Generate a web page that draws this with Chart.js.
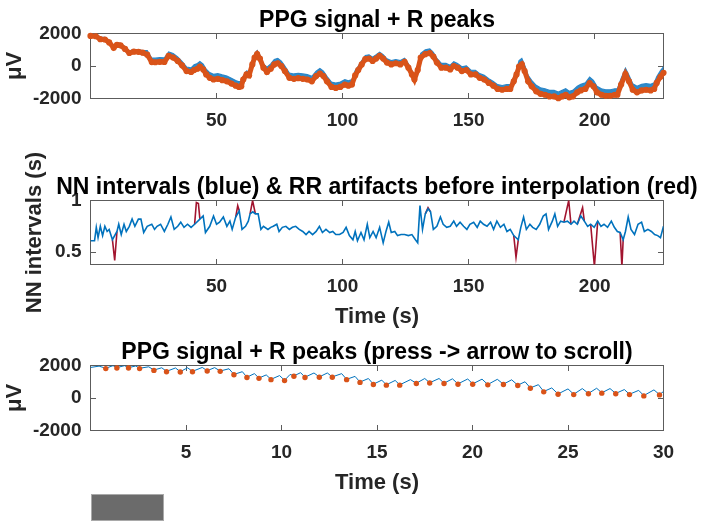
<!DOCTYPE html>
<html>
<head>
<meta charset="utf-8">
<script src="https://cdn.jsdelivr.net/npm/chart.js@4.4.1/dist/chart.umd.min.js"></script>
<style>
  html, body { margin: 0; padding: 0; background: #fff; }
  body { width: 701px; height: 532px; position: relative; overflow: hidden; }
  canvas { position: absolute; left: 0; }
  #scrollBtn { position: absolute; left: 91px; top: 494px; width: 73px; height: 27px;
               background: #6b6b6b; box-sizing: border-box; border: 1px solid #a9a9a9; }
</style>
</head>
<body>
<canvas id="ppgAll" width="701" height="140" style="top:0px"></canvas>
<canvas id="nnChart" width="701" height="190" style="top:140px"></canvas>
<canvas id="ppgWin" width="701" height="170" style="top:330px"></canvas>
<div id="scrollBtn"></div>
<script>
/* ---------- data ---------- */

// top: whole recording, R peak level (orange) and top of PPG waveform (blue)
const topT = [
  0.0, 2.1, 3.9, 5.7, 7.4, 9.2, 10.5, 11.9, 13.7, 15.4,
  17.2, 19.0, 20.7, 22.5, 24.3, 25.7, 27.5, 29.3, 31.0, 32.8,
  34.6, 36.3, 38.1, 39.9, 41.1, 42.4, 43.4, 44.7, 45.9, 47.3,
  48.8, 50.5, 52.3, 54.1, 55.9, 57.6, 58.9, 59.8, 60.6, 61.9,
  62.9, 64.2, 65.1, 66.1, 67.2, 68.6, 70.0, 71.5, 72.9, 74.3,
  75.7, 77.1, 78.9, 80.7, 82.4, 84.2, 86.0, 87.8, 89.5, 91.0,
  92.4, 93.8, 95.6, 97.3, 99.1, 100.9, 102.3, 103.7, 105.0, 106.2,
  107.6, 109.0, 110.5, 111.9, 113.3, 114.7, 116.1, 117.6, 119.3, 121.1,
  122.9, 124.6, 126.1, 127.5, 128.5, 129.8, 131.0, 132.8, 134.6, 136.0,
  137.4, 139.2, 141.0, 142.7, 144.1, 145.6, 147.3, 149.1, 150.9, 152.7,
  154.4, 156.2, 158.0, 159.8, 161.5, 163.3, 165.1, 166.5, 167.9, 169.0,
  170.0, 171.1, 172.2, 173.6, 175.0, 176.8, 178.5, 180.3, 182.1, 183.9,
  185.6, 187.1, 188.5, 189.9, 191.3, 193.1, 194.5, 196.3, 198.0, 199.5,
  200.9, 202.7, 204.4, 206.2, 208.0, 209.0, 210.5, 212.2, 213.6, 215.1,
  216.8, 218.6, 220.4, 222.2, 223.6, 224.6, 226.1, 227.3
];
const topPeaks = [
  1850, 1830, 1650, 1630, 1450, 1130, 1300, 1270, 1050, 800,
  880, 870, 820, 700, 240, 230, 260, 250, 620, 520,
  310, 40, -310, -370, -250, -170, -40, -210, -520, -730,
  -830, -790, -870, -940, -1080, -1210, -1290, -1250, -830, -520,
  -580, 100, 520, 730, 460, -100, -370, -170, 100, 170,
  0, -310, -730, -790, -750, -790, -830, -940, -620, -460,
  -620, -940, -1290, -1350, -1290, -1140, -1210, -1140, -580, -250,
  100, 420, 460, 310, 460, 620, 460, 210, 100, 170,
  100, 250, -100, -520, -830, -250, 520, 730, 790, 580,
  210, -100, -100, -210, 0, -100, -310, -250, -520, -520,
  -730, -830, -1040, -1210, -1410, -1460, -1410, -1410, -940, -520,
  -40, 100, -310, -940, -1250, -1560, -1710, -1770, -1870, -1870,
  -1980, -1870, -1770, -1930, -1870, -1620, -1500, -1410, -1050, -1250,
  -1620, -1770, -1830, -1830, -1770, -1770, -1140, -500, -940, -1460,
  -1620, -1500, -1460, -1500, -1410, -1040, -660, -420
];
const topPpgHigh = [
  1980, 1960, 1780, 1760, 1580, 1260, 1430, 1400, 1180, 930,
  1010, 1000, 950, 950, 490, 480, 510, 500, 870, 770,
  560, 290, -60, -120, 70, 150, 280, 110, -200, -410,
  -510, -470, -550, -620, -760, -890, -970, -930, -610, -300,
  -360, 320, 740, 950, 680, 120, -70, 130, 400, 470,
  300, -10, -430, -490, -450, -490, -530, -640, -320, -160,
  -320, -640, -990, -1050, -990, -840, -910, -840, -280, -20,
  330, 650, 690, 540, 690, 850, 690, 440, 330, 400,
  330, 480, 130, -290, -600, -20, 780, 990, 1050, 840,
  470, 160, 160, 50, 260, 160, -50, 10, -260, -260,
  -470, -570, -780, -950, -1150, -1200, -1150, -1150, -680, -260,
  330, 470, 60, -570, -880, -1190, -1340, -1400, -1500, -1500,
  -1610, -1500, -1400, -1560, -1500, -1250, -1130, -1040, -680, -880,
  -1250, -1400, -1460, -1460, -1400, -1400, -770, -130, -570, -1090,
  -1250, -1130, -1090, -1130, -1040, -670, -290, -50
];

// middle: NN intervals (s) after interpolation
const nnT = [
  0.0, 1.6, 2.3, 3.0, 3.9, 4.8, 5.7, 6.6, 7.4, 8.7,
  10.5, 11.2, 12.2, 13.3, 14.2, 15.4, 16.5, 17.6, 19.0, 20.0,
  21.1, 22.5, 24.3, 25.4, 26.4, 27.8, 29.3, 30.7, 31.9, 33.2,
  34.6, 35.8, 37.1, 38.5, 39.9, 41.3, 43.4, 44.7, 45.6, 47.3,
  48.8, 50.0, 51.2, 52.7, 54.1, 55.3, 56.2, 57.6, 59.0, 60.1,
  61.5, 62.6, 63.3, 64.4, 65.4, 66.5, 67.6, 68.6, 70.4, 71.5,
  72.5, 73.9, 74.8, 76.1, 77.5, 78.9, 80.1, 81.4, 82.8, 84.2,
  85.5, 86.7, 88.1, 89.5, 90.8, 92.0, 93.4, 94.9, 96.1, 97.3,
  98.8, 100.2, 101.4, 102.7, 104.1, 105.0, 105.9, 107.3, 108.5, 109.8,
  110.8, 112.1, 113.3, 114.7, 116.1, 117.2, 118.3, 119.3, 120.7, 121.8,
  123.2, 124.6, 126.1, 127.5, 128.9, 129.8, 130.7, 131.7, 132.8, 133.9,
  134.9, 136.0, 137.4, 138.8, 139.9, 141.3, 142.7, 144.1, 145.2, 146.6,
  148.0, 149.3, 150.5, 152.0, 153.4, 154.6, 155.9, 157.3, 158.7, 159.9,
  161.2, 162.6, 164.0, 165.2, 166.5, 167.9, 169.7, 170.7, 171.8, 172.9,
  174.3, 175.4, 176.8, 178.2, 179.6, 180.7, 181.7, 183.2, 184.2, 185.3,
  186.5, 187.8, 189.2, 190.6, 191.8, 193.1, 194.5, 195.9, 197.2, 198.4,
  199.8, 201.2, 202.5, 203.7, 205.1, 206.6, 207.8, 209.0, 210.1, 211.3,
  212.2, 213.3, 214.4, 215.8, 217.2, 218.6, 219.7, 221.1, 222.5, 223.8,
  225.0, 226.1, 227.3
];
const nnVal = [
  0.61, 0.61, 0.74, 0.64, 0.75, 0.66, 0.75, 0.70, 0.72, 0.62,
  0.70, 0.77, 0.67, 0.77, 0.70, 0.75, 0.82, 0.75, 0.82, 0.82,
  0.69, 0.75, 0.77, 0.72, 0.75, 0.77, 0.70, 0.77, 0.84, 0.72,
  0.75, 0.79, 0.74, 0.77, 0.74, 0.77, 0.82, 0.85, 0.69, 0.75,
  0.85, 0.77, 0.79, 0.84, 0.75, 0.80, 0.72, 0.84, 0.90, 0.72,
  0.75, 0.80, 0.87, 0.89, 0.87, 0.87, 0.72, 0.75, 0.72, 0.74,
  0.75, 0.77, 0.70, 0.74, 0.75, 0.72, 0.74, 0.75, 0.72, 0.70,
  0.67, 0.70, 0.67, 0.70, 0.75, 0.69, 0.72, 0.69, 0.70, 0.67,
  0.67, 0.69, 0.74, 0.66, 0.62, 0.70, 0.61, 0.69, 0.62, 0.77,
  0.64, 0.70, 0.64, 0.74, 0.59, 0.70, 0.79, 0.69, 0.70, 0.66,
  0.67, 0.67, 0.66, 0.67, 0.62, 0.59, 0.95, 0.72, 0.87, 0.92,
  0.89, 0.72, 0.75, 0.84, 0.77, 0.74, 0.75, 0.80, 0.75, 0.79,
  0.75, 0.72, 0.77, 0.79, 0.74, 0.80, 0.77, 0.75, 0.79, 0.72,
  0.80, 0.74, 0.77, 0.70, 0.72, 0.66, 0.62, 0.74, 0.84, 0.72,
  0.77, 0.74, 0.72, 0.77, 0.85, 0.87, 0.72, 0.80, 0.87, 0.75,
  0.80, 0.79, 0.80, 0.77, 0.80, 0.77, 0.85, 0.80, 0.75, 0.77,
  0.74, 0.80, 0.75, 0.77, 0.74, 0.80, 0.74, 0.70, 0.69, 0.62,
  0.70, 0.84, 0.72, 0.67, 0.77, 0.79, 0.70, 0.72, 0.70, 0.67,
  0.66, 0.64, 0.75
];
// middle: RR values that were artifacts before interpolation (null = gap)
const artT = [
  8.7, 9.6, 10.5, 10.5,
  41.3, 42.0, 42.8, 43.4, 43.4,
  57.6, 58.4, 59.0, 59.0,
  63.3, 64.3, 65.4, 65.4,
  132.8, 133.9, 134.9, 134.9,
  167.9, 168.8, 169.7, 169.7,
  187.8, 189.7, 190.6, 190.6,
  193.1, 195.2, 195.9, 195.9,
  198.4, 199.9, 201.2, 201.2,
  210.1, 210.8, 211.3
];
const artVal = [
  0.62, 0.42, 0.70, null,
  0.77, 0.98, 0.97, 0.82, null,
  0.84, 0.95, 0.90, null,
  0.87, 1.00, 0.87, null,
  0.87, 0.93, 0.89, null,
  0.66, 0.45, 0.62, null,
  0.79, 1.00, 0.77, null,
  0.77, 0.93, 0.80, null,
  0.77, 0.36, 0.80, null,
  0.69, 0.36, 0.62
];

// bottom: first 30 s window
const winPpgT = [
  0.00, 0.45, 0.80, 1.18, 1.38, 1.78, 1.99, 2.37, 2.57, 3.05,
  3.32, 3.73, 3.98, 4.45, 4.70, 5.08, 5.34, 5.85, 6.11, 6.50,
  6.79, 7.25, 7.51, 7.95, 8.19, 8.58, 8.82, 9.20, 9.45, 9.90,
  10.16, 10.45, 10.65, 11.00, 11.23, 11.70, 11.98, 12.40, 12.66, 13.15,
  13.41, 13.85, 14.11, 14.55, 14.81, 15.25, 15.49, 15.95, 16.19, 16.75,
  17.06, 17.50, 17.76, 18.25, 18.51, 18.95, 19.24, 19.75, 20.01, 20.50,
  20.80, 21.30, 21.62, 22.05, 22.37, 22.75, 23.03, 23.45, 23.73, 24.15,
  24.48, 25.00, 25.30, 25.75, 26.07, 26.50, 26.77, 27.20, 27.50, 27.95,
  28.22, 28.70, 28.97, 29.50, 29.79, 30.00
];
const winPpgVal = [
  1880, 1960, 1830, 1990, 1870, 1990, 1870, 1970, 1830, 1920,
  1720, 1860, 1640, 1850, 1620, 1860, 1640, 1880, 1680, 1870,
  1660, 1800, 1450, 1620, 1280, 1500, 1230, 1420, 1150, 1380,
  1090, 1450, 1360, 1560, 1280, 1540, 1300, 1540, 1300, 1500,
  1150, 1330, 980, 1200, 850, 1100, 810, 1080, 810, 1130,
  910, 1200, 940, 1200, 910, 1180, 870, 1170, 870, 1160,
  830, 1150, 850, 1120, 790, 1000, 620, 820, 400, 620,
  250, 560, 230, 580, 280, 600, 320, 580, 280, 520,
  230, 470, 150, 500, 210, 400
];
const winPeakT = [
  0.80, 1.38, 1.99, 2.57, 3.32, 3.98, 4.70, 5.34, 6.11, 6.79,
  7.51, 8.19, 8.82, 9.45, 10.16, 10.65, 11.23, 11.98, 12.66, 13.41,
  14.11, 14.81, 15.49, 16.19, 17.06, 17.76, 18.51, 19.24, 20.01, 20.80,
  21.62, 22.37, 23.03, 23.73, 24.48, 25.30, 26.07, 26.77, 27.50, 28.22,
  28.97, 29.79
];
const winPeakVal = [
  1810, 1850, 1850, 1810, 1700, 1620, 1600, 1620, 1660, 1640,
  1430, 1260, 1210, 1130, 1070, 1340, 1260, 1280, 1280, 1130,
  960, 830, 790, 790, 890, 920, 890, 850, 850, 810,
  830, 770, 600, 380, 230, 210, 260, 300, 260, 210,
  130, 190
];

// axes limits and ticks
const fullXTicks = [50, 100, 150, 200];
const winXTicks = [5, 10, 15, 20, 25, 30];
const uvTicks = [-2000, 0, 2000];
const nnTicks = [0.5, 1];

/* ---------- drawing helpers ---------- */

const FONT = "'Liberation Sans', Arial, Helvetica, sans-serif";
const TXT = '#262626';
const BLUE = '#0072BD', ORANGE = '#D95319', RED = '#A2142F';
const PLOT_LEFT = 90.5, PLOT_RIGHT = 663.5;
const X_AXIS_H = 30;   // space reserved under each plot for the tick labels

const pts = (xs, ys) => xs.map((x, i) => ({ x, y: ys[i] }));

// matlab-like box with inward ticks, drawn under the data
const axesBox = {
  id: 'axesBox',
  beforeDatasetsDraw(chart) {
    const { ctx, chartArea: a, scales: { x, y } } = chart;
    const tl = 5.5;
    ctx.save();
    ctx.strokeStyle = '#5c5c5c';
    ctx.lineWidth = 1;
    ctx.strokeRect(a.left, a.top, a.right - a.left, a.bottom - a.top);
    ctx.beginPath();
    x.ticks.forEach(t => {
      const px = Math.floor(x.getPixelForValue(t.value)) + 0.5;
      ctx.moveTo(px, a.bottom); ctx.lineTo(px, a.bottom - tl);
      ctx.moveTo(px, a.top); ctx.lineTo(px, a.top + tl);
    });
    y.ticks.forEach(t => {
      const py = Math.floor(y.getPixelForValue(t.value)) + 0.5;
      ctx.moveTo(a.left, py); ctx.lineTo(a.left + tl, py);
      ctx.moveTo(a.right, py); ctx.lineTo(a.right - tl, py);
    });
    ctx.stroke();
    ctx.restore();
  }
};

// title, xlabel, ylabel
const axesText = {
  id: 'axesText',
  afterDraw(chart, args, o) {
    const { ctx, chartArea: a } = chart;
    const cx = (a.left + a.right) / 2;
    ctx.save();
    ctx.textAlign = 'center';
    ctx.textBaseline = 'alphabetic';
    ctx.fillStyle = '#000';
    ctx.font = `bold ${o.titleSize}px ${FONT}`;
    ctx.fillText(o.title, cx, a.top - 7);
    ctx.fillStyle = TXT;
    ctx.font = `bold ${o.labelSize}px ${FONT}`;
    if (o.xlabel) ctx.fillText(o.xlabel, cx, a.bottom + o.xlabelDy);
    ctx.translate(o.ylabelX, (a.top + a.bottom) / 2);
    ctx.rotate(-Math.PI / 2);
    ctx.textBaseline = 'middle';
    ctx.fillText(o.ylabel, 0, 0);
    ctx.restore();
  }
};

function xAxis(min, max, ticks) {
  return {
    type: 'linear', min, max,
    grid: { display: false, drawTicks: false },
    border: { display: false },
    afterFit: s => { s.height = X_AXIS_H; },
    afterBuildTicks: s => { s.ticks = ticks.map(v => ({ value: v })); },
    ticks: {
      autoSkip: false, maxRotation: 0, minRotation: 0, padding: 11, color: TXT,
      font: { family: FONT, size: 19, weight: 'bold' },
      callback: v => String(v)
    }
  };
}

function yAxis(min, max, ticks) {
  return {
    type: 'linear', min, max,
    grid: { display: false, drawTicks: false },
    border: { display: false },
    afterFit: s => { s.width = PLOT_LEFT; },
    afterBuildTicks: s => { s.ticks = ticks.map(v => ({ value: v })); },
    ticks: {
      autoSkip: false, padding: 9, color: TXT,
      font: { family: FONT, size: 19, weight: 'bold' },
      callback: v => String(v)
    }
  };
}

function makeChart(id, datasets, xs, ys, plotTop, plotBottom, text) {
  const canvas = document.getElementById(id);
  return new Chart(canvas, {
    type: 'line',
    data: { datasets },
    options: {
      responsive: false,
      animation: false,
      events: [],
      layout: { padding: { left: 0, right: 701 - PLOT_RIGHT, top: plotTop,
                           bottom: canvas.height - plotBottom - X_AXIS_H } },
      scales: { x: xs, y: ys },
      plugins: { legend: { display: false }, tooltip: { enabled: false }, axesText: text }
    },
    plugins: [axesBox, axesText]
  });
}

/* ---------- charts ---------- */

makeChart('ppgAll', [
  {
    data: pts(topT, topPeaks),
    borderColor: ORANGE, borderWidth: 5, backgroundColor: ORANGE,
    pointRadius: 3.1, pointBorderWidth: 0, pointBackgroundColor: ORANGE, clip: 4
  },
  {
    data: pts(topT, topPpgHigh),
    borderColor: '#2a86c8', borderWidth: 1.2, pointRadius: 0,
    fill: '-1', backgroundColor: 'rgba(0,114,189,0.82)'
  }
], xAxis(0, 227.3, fullXTicks), yAxis(-2000, 2000, uvTicks), 33.5, 98.5,
  { title: 'PPG signal + R peaks', titleSize: 23, labelSize: 22, ylabel: 'μV', ylabelX: 15 });

makeChart('nnChart', [
  {
    data: pts(nnT, nnVal),
    borderColor: BLUE, borderWidth: 1.6, pointRadius: 0
  },
  {
    data: pts(artT, artVal),
    borderColor: RED, borderWidth: 1.6, pointRadius: 0, spanGaps: false
  }
], xAxis(0, 227.3, fullXTicks), yAxis(0.38, 1.0, nnTicks), 60.5, 124.5,
  { title: 'NN intervals (blue) & RR artifacts before interpolation (red)', titleSize: 23, labelSize: 22,
    xlabel: 'Time (s)', xlabelDy: 58, ylabel: 'NN intervals (s)', ylabelX: 34.5 });

makeChart('ppgWin', [
  {
    data: pts(winPeakT, winPeakVal),
    showLine: false, pointRadius: 2.7, pointBorderWidth: 0,
    pointBackgroundColor: ORANGE, clip: 4
  },
  {
    data: pts(winPpgT, winPpgVal),
    borderColor: BLUE, borderWidth: 1, pointRadius: 0
  }
], xAxis(0, 30, winXTicks), yAxis(-2000, 2000, uvTicks), 35.5, 100.5,
  { title: 'PPG signal + R peaks (press -> arrow to scroll)', titleSize: 23, labelSize: 22,
    xlabel: 'Time (s)', xlabelDy: 58, ylabel: 'μV', ylabelX: 15 });
</script>
</body>
</html>
